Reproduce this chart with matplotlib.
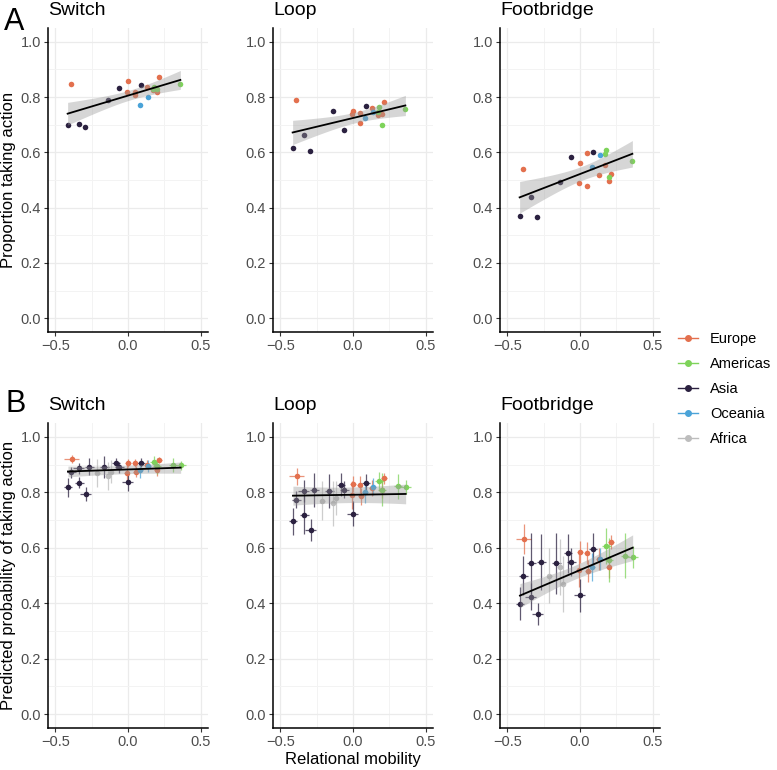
import numpy as np
import matplotlib
matplotlib.use('Agg')
import matplotlib.pyplot as plt
from matplotlib.lines import Line2D

plt.rcParams['font.family'] = ['Liberation Sans', 'DejaVu Sans']

# 区域颜色
regions = ['Europe', 'Americas', 'Asia', 'Oceania', 'Africa']
region_colors = {'Europe': '#E3704E', 'Americas': '#7ED35A', 'Asia': '#2B2140',
                 'Oceania': '#4AA3D8', 'Africa': '#BDBDBD'}
scenarios = ['Switch', 'Loop', 'Footbridge']

# ---- A: 各国观测比例 ----
top_region = ['Europe', 'Asia', 'Asia', 'Asia', 'Asia', 'Asia', 'Europe', 'Europe', 'Europe',
              'Europe', 'Asia', 'Oceania', 'Oceania', 'Europe', 'Europe', 'Europe', 'Europe',
              'Americas', 'Americas', 'Americas', 'Americas']
top_x = [-0.39, -0.415, -0.34, -0.295, -0.135, -0.06, 0.0, -0.01, 0.045, 0.05, 0.088, 0.082,
         0.138, 0.128, 0.212, 0.175, 0.196, 0.18, 0.20, 0.36, 0.172]
top_switch = [0.848, 0.70, 0.704, 0.69, 0.79, 0.833, 0.859, 0.82, 0.82, 0.806, 0.843, 0.77,
              0.80, 0.835, 0.871, 0.824, 0.82, 0.835, 0.83, 0.848, 0.828]
top_loop = [0.79, 0.617, 0.662, 0.604, 0.751, 0.681, 0.748, 0.739, 0.742, 0.706, 0.768, 0.725,
            0.745, 0.76, 0.781, 0.734, 0.739, 0.765, 0.70, 0.756, 0.745]
top_foot = [0.54, 0.371, 0.439, 0.366, 0.492, 0.582, 0.56, 0.49, 0.598, 0.48, 0.603, 0.548,
            0.59, 0.517, 0.523, 0.555, 0.497, 0.608, 0.51, 0.567, 0.595]

# ---- B: 模型预测概率（带误差） ----
bot_region = ['Europe', 'Asia', 'Asia', 'Asia', 'Asia', 'Asia', 'Asia', 'Africa', 'Asia',
              'Africa', 'Africa', 'Asia', 'Asia', 'Asia', 'Europe', 'Europe', 'Europe', 'Europe',
              'Asia', 'Oceania', 'Oceania', 'Europe', 'Americas', 'Europe', 'Europe',
              'Americas', 'Americas', 'Americas']
bot_x = [-0.388, -0.413, -0.39, -0.335, -0.292, -0.34, -0.267, -0.21, -0.162, -0.139, -0.12,
         -0.082, -0.06, -0.003, 0.0, 0.045, -0.01, 0.055, 0.09, 0.085, 0.135, 0.128, 0.18,
         0.213, 0.196, 0.20, 0.31, 0.362]
bot_xerr = [0.05, 0.03, 0.03, 0.03, 0.035, 0.04, 0.03, 0.02, 0.03, 0.02, 0.02, 0.03, 0.03,
            0.035, 0.02, 0.02, 0.02, 0.02, 0.025, 0.02, 0.02, 0.02, 0.03, 0.02, 0.02, 0.03,
            0.03, 0.04]
bot_switch = [0.92, 0.818, 0.872, 0.835, 0.793, 0.886, 0.893, 0.87, 0.89, 0.86, 0.875, 0.905,
              0.89, 0.838, 0.905, 0.905, 0.87, 0.875, 0.907, 0.88, 0.895, 0.90, 0.91, 0.917,
              0.88, 0.895, 0.90, 0.897]
bot_switch_err = [0.015, 0.035, 0.02, 0.02, 0.025, 0.02, 0.03, 0.05, 0.04, 0.05, 0.04, 0.02,
                  0.02, 0.035, 0.015, 0.015, 0.04, 0.02, 0.015, 0.03, 0.02, 0.015, 0.02,
                  0.01, 0.02, 0.03, 0.025, 0.015]
bot_loop = [0.858, 0.695, 0.773, 0.72, 0.663, 0.805, 0.808, 0.77, 0.805, 0.76, 0.78, 0.828,
            0.81, 0.722, 0.83, 0.828, 0.79, 0.785, 0.835, 0.80, 0.82, 0.815, 0.84, 0.85,
            0.81, 0.81, 0.822, 0.82]
bot_loop_err = [0.03, 0.05, 0.03, 0.07, 0.04, 0.04, 0.06, 0.07, 0.06, 0.08, 0.06, 0.04, 0.03,
                0.045, 0.03, 0.03, 0.05, 0.03, 0.03, 0.04, 0.03, 0.03, 0.035, 0.02, 0.03,
                0.06, 0.045, 0.025]
bot_foot = [0.632, 0.398, 0.499, 0.545, 0.361, 0.424, 0.548, 0.50, 0.545, 0.53, 0.47, 0.58,
            0.55, 0.428, 0.585, 0.58, 0.52, 0.515, 0.595, 0.53, 0.56, 0.56, 0.605, 0.62,
            0.53, 0.555, 0.572, 0.567]
bot_foot_err = [0.055, 0.06, 0.07, 0.11, 0.04, 0.05, 0.10, 0.10, 0.11, 0.10, 0.10, 0.07, 0.05,
                0.06, 0.04, 0.04, 0.06, 0.04, 0.06, 0.05, 0.04, 0.04, 0.065, 0.025, 0.04,
                0.08, 0.08, 0.04]
# 模型拟合线：截距、斜率、中心标准误、斜率项
bot_fit_intercept = [0.8825, 0.7912, 0.5196]
bot_fit_slope = [0.018, 0.008, 0.223]
bot_fit_c0 = [0.015, 0.028, 0.025]
bot_fit_c1 = [0.034, 0.054, 0.096]

top_y = [top_switch, top_loop, top_foot]
bot_y = [bot_switch, bot_loop, bot_foot]
bot_yerr = [bot_switch_err, bot_loop_err, bot_foot_err]


def t_crit(df, z=1.959964):
    return z + (z**3 + z) / (4 * df) + (5 * z**5 + 16 * z**3 + 3 * z) / (96 * df**2)


def style_axes(ax):
    ax.set_xlim(-0.55, 0.55)
    ax.set_ylim(-0.05, 1.05)
    ax.set_xticks([-0.5, 0.0, 0.5])
    ax.set_xticks([-0.25, 0.25], minor=True)
    ax.set_yticks([0.0, 0.2, 0.4, 0.6, 0.8, 1.0])
    ax.set_yticks([0.1, 0.3, 0.5, 0.7, 0.9], minor=True)
    ax.set_xticklabels(['\u22120.5', '0.0', '0.5'])
    ax.grid(which='major', color='#EBEBEB', lw=0.9)
    ax.grid(which='minor', color='#F3F3F3', lw=0.7)
    ax.set_axisbelow(True)
    for s in ['top', 'right']:
        ax.spines[s].set_visible(False)
    for s in ['left', 'bottom']:
        ax.spines[s].set_linewidth(1.1)
        ax.spines[s].set_color('black')
    ax.tick_params(which='major', length=3, width=0.8, color='#333333',
                   labelsize=10.5, labelcolor='#4D4D4D', pad=2)
    ax.tick_params(which='minor', length=0)


fig = plt.figure(figsize=(7.77, 7.7), dpi=100)
lefts = [48 / 777, 273 / 777, 500 / 777]
w = 160 / 777
top_axes = [fig.add_axes([l, 1 - 332 / 770, w, 304 / 770]) for l in lefts]
bot_axes = [fig.add_axes([l, 1 - 728 / 770, w, 305 / 770]) for l in lefts]

# A 行
for i, ax in enumerate(top_axes):
    x = np.array(top_x)
    y = np.array(top_y[i])
    for r in regions:
        m = np.array([g == r for g in top_region])
        if m.any():
            ax.scatter(x[m], y[m], s=16, color=region_colors[r], linewidths=0, zorder=3)
    # 线性回归 + 95% 置信带
    n = len(x)
    b, a = np.polyfit(x, y, 1)
    resid = y - (a + b * x)
    s = np.sqrt(np.sum(resid**2) / (n - 2))
    xs = np.linspace(x.min(), x.max(), 80)
    se = s * np.sqrt(1 / n + (xs - x.mean())**2 / np.sum((x - x.mean())**2))
    yh = a + b * xs
    tc = t_crit(n - 2)
    ax.fill_between(xs, yh - tc * se, yh + tc * se, color='#999999', alpha=0.4, lw=0, zorder=4)
    ax.plot(xs, yh, color='black', lw=1.3, zorder=5)
    style_axes(ax)
    ax.set_title(scenarios[i], loc='left', fontsize=14, pad=9)

# B 行
for i, ax in enumerate(bot_axes):
    x = np.array(bot_x)
    y = np.array(bot_y[i])
    ye = np.array(bot_yerr[i])
    xe = np.array(bot_xerr)
    for r in regions:
        m = np.array([g == r for g in bot_region])
        if m.any():
            ax.errorbar(x[m], y[m], xerr=xe[m], yerr=ye[m], fmt='none',
                        ecolor=region_colors[r], elinewidth=0.9, alpha=0.75, zorder=2)
            ax.scatter(x[m], y[m], s=16, color=region_colors[r], linewidths=0, zorder=3)
    xs = np.linspace(x.min(), x.max(), 80)
    yh = bot_fit_intercept[i] + bot_fit_slope[i] * xs
    hw = np.sqrt(bot_fit_c0[i]**2 + (bot_fit_c1[i] * (xs - x.mean()))**2)
    ax.fill_between(xs, yh - hw, yh + hw, color='#999999', alpha=0.4, lw=0, zorder=4)
    ax.plot(xs, yh, color='black', lw=1.3, zorder=5)
    style_axes(ax)
    ax.set_title(scenarios[i], loc='left', fontsize=14, pad=9)

top_axes[0].set_ylabel('Proportion taking action', fontsize=12)
top_axes[0].yaxis.set_label_coords(-0.2, 0.5)
bot_axes[0].set_ylabel('Predicted probability of taking action', fontsize=12)
bot_axes[0].yaxis.set_label_coords(-0.2, 0.5)
bot_axes[1].set_xlabel('Relational mobility', fontsize=12, labelpad=2)

fig.text(4 / 777, 1 - 30 / 770, 'A', fontsize=22, va='baseline', ha='left')
fig.text(5 / 777, 1 - 412 / 770, 'B', fontsize=22, va='baseline', ha='left')

handles = [Line2D([], [], color=region_colors[r], marker='o', markersize=4, lw=1)
           for r in regions]
fig.legend(handles, regions, loc='center left', bbox_to_anchor=(678 / 777, 1 - 389 / 770),
           frameon=False, fontsize=10.5, handlelength=1.4, handletextpad=0.8,
           labelspacing=0.75, borderpad=0, borderaxespad=0)

fig.savefig('out.png', dpi=100)
